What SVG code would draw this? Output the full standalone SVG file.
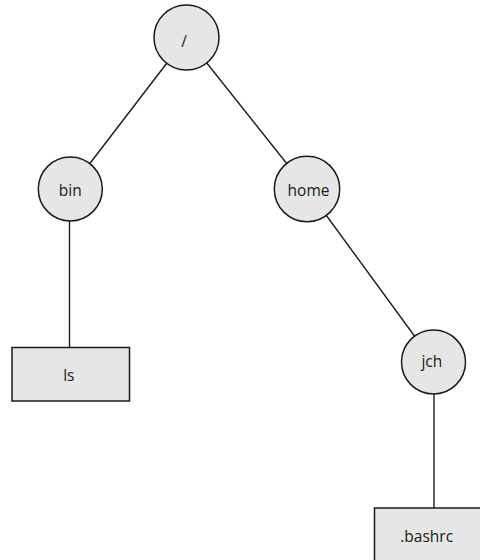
<svg xmlns="http://www.w3.org/2000/svg" width="480" height="560" viewBox="0 0 480 560">
<style>
.edge{stroke:#1a1a1a;stroke-width:1.4;fill:none}
.node{fill:#e6e6e6;stroke:#1a1a1a;stroke-width:1.5}
.lbl{font-family:"Open Sans","Noto Sans",sans-serif;font-size:15.5px;fill:#1a1a1a;text-anchor:middle}
</style>
<rect width="480" height="560" fill="#ffffff"/>
<g id="connectors">
<line class="edge" x1="186.5" y1="37.5" x2="70.3" y2="189"/>
<line class="edge" x1="186.5" y1="37.5" x2="307" y2="189"/>
<line class="edge" x1="307" y1="189" x2="433.5" y2="362"/>
<line class="edge" x1="69.5" y1="189" x2="69.5" y2="347.5"/>
<line class="edge" x1="434" y1="362" x2="434" y2="508"/>
</g>
<g id="root">
<circle class="node" cx="186.5" cy="37.5" r="32.5"/>
<text class="lbl" x="184" y="46.5">/</text>
</g>
<g id="bin">
<circle class="node" cx="70.3" cy="189" r="32"/>
<text class="lbl" x="70.3" y="195.7">bin</text>
</g>
<g id="home">
<circle class="node" cx="307" cy="189" r="32.7"/>
<text class="lbl" x="308.5" y="195.7">home</text>
</g>
<g id="jch">
<circle class="node" cx="433.5" cy="362" r="32"/>
<text class="lbl" x="431.8" y="367">jch</text>
</g>
<g id="ls">
<rect class="node" x="12" y="347.5" width="117.5" height="53.5"/>
<text class="lbl" x="68.8" y="380.7">ls</text>
</g>
<g id="bashrc">
<rect class="node" x="374.5" y="508" width="117.5" height="53.5"/>
<text class="lbl" x="426.7" y="541.7">.bashrc</text>
</g>
</svg>
